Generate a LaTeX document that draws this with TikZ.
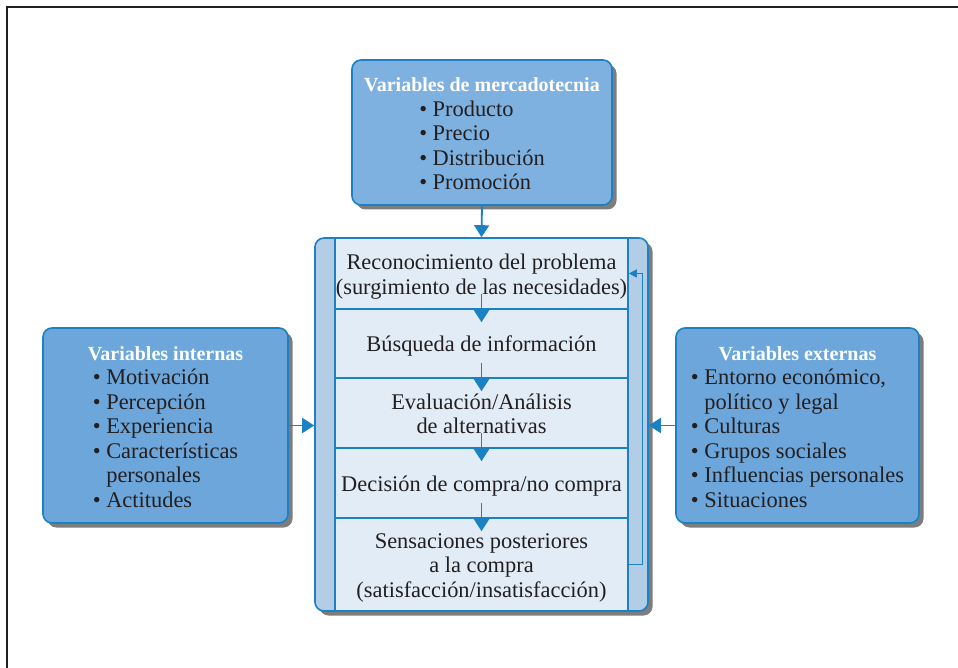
\documentclass[tikz,border=0pt]{standalone}
\usepackage{fontspec}
\setmainfont{Liberation Serif}
\usetikzlibrary{arrows.meta,shadows}

\definecolor{frameblk}{HTML}{231F20}
\definecolor{edgeblue}{HTML}{1A82C4}
\definecolor{varfill}{HTML}{6DA6DA}
\definecolor{mktfill}{HTML}{7EB1E0}
\definecolor{stripfill}{HTML}{B3CDE7}
\definecolor{stepfill}{HTML}{E1ECF7}
\definecolor{shadowgray}{HTML}{7D7D7D}
\definecolor{inkcol}{HTML}{231F20}

\newcommand\bodyfont{\fontsize{22.4}{24.5}\selectfont}
\newcommand\headfont{\fontsize{20}{24.5}\selectfont\bfseries\color{white}}
% set a block a little lower while keeping its nominal size
\newcommand\lowered[1]{\raisebox{-3.5pt}[\height][\depth]{#1}}
% centred block of lines, each line on a full-height strut
\newcommand\steplines[1]{\lowered{\begin{tabular}{@{}c@{}}#1\end{tabular}}}
% heading plus left-aligned bullet list, centred as a block
\newcommand\varlist[2]{\lowered{\begin{tabular}{@{}c@{}}{\headfont #1}\\
   \begin{tabular}[t]{@{}l@{}}#2\end{tabular}\end{tabular}}}

\tikzset{
  shadowed/.style={drop shadow={shadow xshift=4.5pt, shadow yshift=-4.5pt,
      fill=shadowgray, opacity=1}},
  varbox/.style={shadowed, draw=edgeblue, line width=1.6pt, rounded corners=9pt,
      inner sep=0pt, font=\bodyfont, text=inkcol},
  procbox/.style={shadowed, draw=edgeblue, line width=1.6pt, rounded corners=9pt,
      fill=stripfill, inner sep=0pt},
  stepbox/.style={draw=edgeblue, line width=1.6pt, fill=stepfill,
      minimum width=293pt, inner sep=0pt, font=\bodyfont, text=inkcol},
  arr/.style={draw=edgeblue, line width=1.8pt, -{Triangle[length=12pt,width=15pt]}},
  fback/.style={draw=edgeblue, line width=1.3pt, -{Triangle[length=8pt,width=8pt]}},
}

\begin{document}
\begin{tikzpicture}[x=1pt, y=-1pt]
\useasboundingbox (0,0) rectangle (958,668);

% outer frame (top and left edges)
\draw[frameblk, line width=2.6pt] (7,668) -- (7,7) -- (958,7);

% marketing variables
\node[varbox, fill=mktfill, minimum width=260pt, minimum height=145pt] (mkt) at (482,132.5)
  {\varlist{Variables de mercadotecnia}
   {• Producto\\ • Precio\\ • Distribución\\ • Promoción}};

% internal variables
\node[varbox, fill=varfill, minimum width=245pt, minimum height=195pt] (int) at (165.5,425.5)
  {\varlist{Variables internas}
   {• Motivación\\ • Percepción\\ • Experiencia\\
    • Características\\ \phantom{• }personales\\ • Actitudes}};

% external variables
\node[varbox, fill=varfill, minimum width=243pt, minimum height=195pt] (ext) at (797.5,425.5)
  {\varlist{Variables externas}
   {• Entorno económico,\\ \phantom{• }político y legal\\
    • Culturas\\ • Grupos sociales\\ • Influencias personales\\ • Situaciones}};

% decision process
\node[procbox, minimum width=333pt, minimum height=373pt] (proc) at (481.5,424.5) {};
\node[stepbox, minimum height=71pt] (r1) at (481.5,273.5)
  {\steplines{Reconocimiento del problema\\(surgimiento de las necesidades)}};
\node[stepbox, minimum height=69pt] (r2) at (481.5,343.5)
  {\steplines{Búsqueda de información}};
\node[stepbox, minimum height=70pt] (r3) at (481.5,413)
  {\steplines{Evaluación/Análisis\\de alternativas}};
\node[stepbox, minimum height=70pt] (r4) at (481.5,483)
  {\steplines{Decisión de compra/no compra}};
\node[stepbox, minimum height=93pt] (r5) at (481.5,564.5)
  {\steplines{Sensaciones posteriores\\a la compra\\(satisfacción/insatisfacción)}};

% connectors
\draw[arr] (mkt.south) -- (proc.north);
\draw[arr] (int.east) -- (int.east -| proc.west);
\draw[arr] (ext.west) -- (ext.west -| proc.east);
\draw[arr] ([yshift=16pt]r1.south) -- ([yshift=-14pt]r2.north);
\draw[arr] ([yshift=16pt]r2.south) -- ([yshift=-14pt]r3.north);
\draw[arr] ([yshift=16pt]r3.south) -- ([yshift=-14pt]r4.north);
\draw[arr] ([yshift=16pt]r4.south) -- ([yshift=-14pt]r5.north);
\draw[fback] (r5.east) -- ++(14,0) |- (r1.east);
\end{tikzpicture}
\end{document}
